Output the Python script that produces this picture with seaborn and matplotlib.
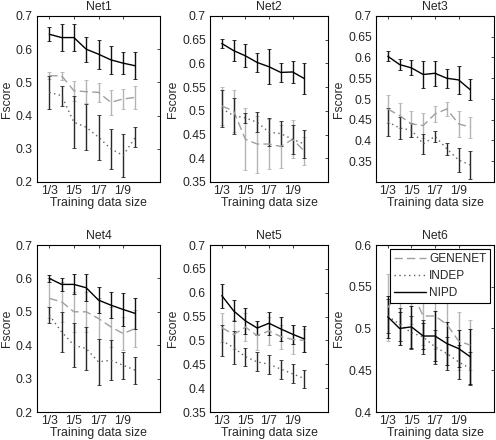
import numpy as np
import pandas as pd
import matplotlib
matplotlib.use("Agg")
import matplotlib.pyplot as plt
import seaborn as sb

# training data size 1/3 ... 1/10
sizes = [3, 4, 5, 6, 7, 8, 9, 10]
size_ticks = [3, 5, 7, 9]
size_labels = ["1/3", "1/5", "1/7", "1/9"]
methods = ["GENENET", "INDEP", "NIPD"]
nets = ["Net1", "Net2", "Net3", "Net4", "Net5", "Net6"]

# mean Fscore per net, per method
genenet = [
    [0.52, 0.52, 0.475, 0.472, 0.47, 0.44, 0.45, 0.455],
    [0.51, 0.50, 0.44, 0.43, 0.43, 0.425, 0.44, 0.415],
    [0.476, 0.46, 0.44, 0.436, 0.464, 0.476, 0.44, 0.432],
    [0.54, 0.53, 0.50, 0.50, 0.48, 0.455, 0.435, 0.45],
    [0.527, 0.512, 0.528, 0.51, 0.52, 0.508, 0.502, 0.50],
    [0.525, 0.545, 0.545, 0.515, 0.515, 0.505, 0.485, 0.48],
]
indep = [
    [0.47, 0.46, 0.38, 0.365, 0.335, 0.30, 0.28, 0.335],
    [0.505, 0.49, 0.485, 0.476, 0.455, 0.452, 0.44, 0.43],
    [0.445, 0.43, 0.425, 0.392, 0.41, 0.38, 0.353, 0.341],
    [0.49, 0.44, 0.40, 0.39, 0.35, 0.355, 0.34, 0.325],
    [0.50, 0.485, 0.466, 0.455, 0.45, 0.44, 0.43, 0.42],
    [0.515, 0.505, 0.495, 0.49, 0.478, 0.47, 0.46, 0.452],
]
nipd = [
    [0.645, 0.635, 0.635, 0.60, 0.585, 0.568, 0.558, 0.55],
    [0.642, 0.627, 0.616, 0.602, 0.593, 0.581, 0.582, 0.568],
    [0.603, 0.583, 0.575, 0.559, 0.562, 0.55, 0.546, 0.522],
    [0.60, 0.582, 0.582, 0.572, 0.535, 0.52, 0.507, 0.495],
    [0.594, 0.562, 0.541, 0.526, 0.536, 0.524, 0.513, 0.503],
    [0.514, 0.50, 0.502, 0.491, 0.491, 0.482, 0.476, 0.466],
]

# half-length of error bars
genenet_err = [
    [0.011, 0.012, 0.03, 0.034, 0.028, 0.038, 0.03, 0.035],
    [0.04, 0.045, 0.065, 0.06, 0.053, 0.045, 0.04, 0.03],
    [0.033, 0.03, 0.032, 0.03, 0.02, 0.016, 0.032, 0.025],
    [0.06, 0.06, 0.06, 0.06, 0.06, 0.06, 0.05, 0.055],
    [0.03, 0.03, 0.03, 0.03, 0.03, 0.025, 0.03, 0.025],
    [0.04, 0.04, 0.04, 0.035, 0.04, 0.035, 0.035, 0.03],
]
indep_err = [
    [0.05, 0.03, 0.078, 0.07, 0.068, 0.06, 0.066, 0.03],
    [0.04, 0.038, 0.01, 0.021, 0.03, 0.026, 0.03, 0.03],
    [0.034, 0.027, 0.016, 0.024, 0.014, 0.014, 0.03, 0.034],
    [0.025, 0.06, 0.065, 0.065, 0.07, 0.06, 0.04, 0.04],
    [0.033, 0.035, 0.019, 0.02, 0.02, 0.02, 0.02, 0.019],
    [0.02, 0.02, 0.02, 0.02, 0.02, 0.02, 0.02, 0.02],
]
nipd_err = [
    [0.021, 0.041, 0.04, 0.038, 0.044, 0.043, 0.034, 0.041],
    [0.009, 0.022, 0.024, 0.021, 0.037, 0.02, 0.024, 0.032],
    [0.012, 0.014, 0.018, 0.033, 0.03, 0.023, 0.034, 0.025],
    [0.01, 0.02, 0.03, 0.04, 0.04, 0.04, 0.05, 0.045],
    [0.025, 0.022, 0.027, 0.015, 0.024, 0.025, 0.02, 0.028],
    [0.025, 0.02, 0.025, 0.015, 0.03, 0.026, 0.022, 0.033],
]

ylims = [(0.2, 0.7), (0.35, 0.7), (0.3, 0.7), (0.2, 0.7), (0.35, 0.7), (0.4, 0.6)]
yticks = [
    [0.2, 0.3, 0.4, 0.5, 0.6, 0.7],
    [0.35, 0.4, 0.45, 0.5, 0.55, 0.6, 0.65, 0.7],
    [0.35, 0.4, 0.45, 0.5, 0.55, 0.6, 0.65, 0.7],
    [0.2, 0.3, 0.4, 0.5, 0.6, 0.7],
    [0.35, 0.4, 0.45, 0.5, 0.55, 0.6, 0.65, 0.7],
    [0.4, 0.45, 0.5, 0.55, 0.6],
]

sb.set_style("white")
plt.rcParams['font.family'] = ['Liberation Sans', 'DejaVu Sans']
fs = 8.8

W, H = 496, 440
fig = plt.figure(figsize=(W / 100, H / 100), dpi=100)

# frame positions in pixels (left, right) and (top, bottom)
col_px = [(37, 160), (210, 328), (376, 494)]
row_px = [(16, 182), (245, 412)]

line_colors = {"GENENET": "#a0a0a0", "INDEP": "#606060", "NIPD": "#000000"}
bar_colors = {"GENENET": "#b4b4b4", "INDEP": "#282828", "NIPD": "#101010"}
dashes = {"GENENET": (6, 3), "INDEP": (1, 2.5), "NIPD": ""}

for k, net in enumerate(nets):
    r, c = divmod(k, 3)
    l, rr = col_px[c]
    t, b = row_px[r]
    ax = fig.add_axes([l / W, 1 - b / H, (rr - l) / W, (b - t) / H])

    df = pd.DataFrame({
        "size": sizes * 3,
        "Fscore": genenet[k] + indep[k] + nipd[k],
        "err": genenet_err[k] + indep_err[k] + nipd_err[k],
        "method": ["GENENET"] * 8 + ["INDEP"] * 8 + ["NIPD"] * 8,
    })

    for m in methods:
        d = df[df.method == m]
        ax.errorbar(d["size"], d["Fscore"], yerr=d["err"], fmt="none",
                    ecolor=bar_colors[m], elinewidth=1.0, capsize=1.2,
                    capthick=0.6, zorder=2)

    sb.lineplot(data=df, x="size", y="Fscore", hue="method", style="method",
                palette=line_colors, dashes=dashes, linewidth=1.0,
                ax=ax, legend=(k == 5), zorder=3)

    ax.set_xlim(2, 12)
    ax.set_ylim(*ylims[k])
    ax.set_xticks(size_ticks)
    ax.set_xticklabels(size_labels)
    ax.set_yticks(yticks[k])
    ax.set_yticklabels(["%g" % v for v in yticks[k]])
    ax.tick_params(direction="in", length=2.5, width=0.6, top=True,
                   right=True, labelsize=fs)
    ax.tick_params(axis="x", pad=2)
    ax.tick_params(axis="y", pad=3)
    for s in ax.spines.values():
        s.set_linewidth(0.8)
        s.set_color("black")
    ax.set_title(net, fontsize=fs, pad=4)
    ax.set_xlabel("Training data size", fontsize=fs, labelpad=0.5)
    ax.set_ylabel("Fscore", fontsize=fs, labelpad=2)

    if k == 5:
        leg = ax.legend(loc="upper right", fontsize=8.5, handlelength=2.7,
                        frameon=True, fancybox=False, borderpad=0.35,
                        labelspacing=0.45, handletextpad=0.3,
                        borderaxespad=0.3, framealpha=1)
        leg.get_frame().set_edgecolor("black")
        leg.get_frame().set_linewidth(0.8)
        leg.set_title(None)

fig.savefig("out.png", dpi=100)
